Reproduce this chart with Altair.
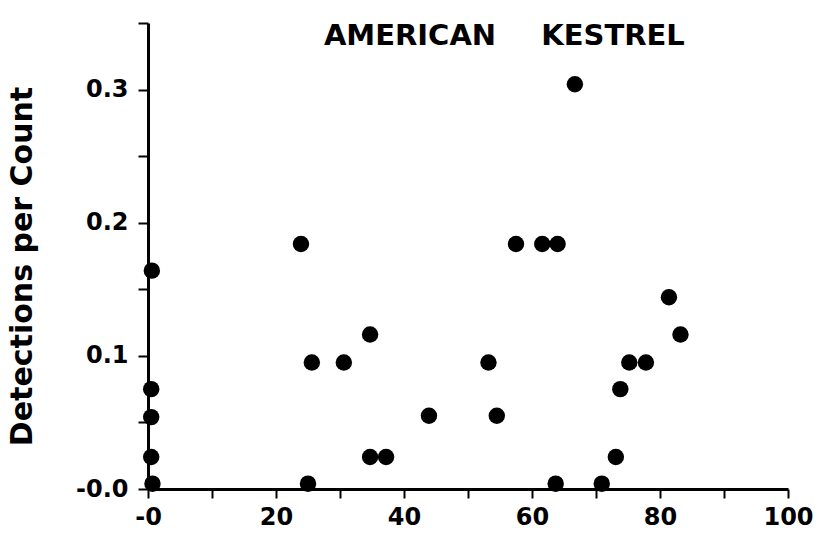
import altair as alt
import pandas as pd

# Data (x = percent, y = detections per count)
xs = [0.6, 0.5, 0.5, 0.5, 0.7, 23.9, 25.0, 25.6, 30.6, 34.7, 34.7, 37.2, 43.9,
      53.2, 54.5, 57.5, 61.6, 64.0, 63.7, 66.7, 70.9, 73.1, 73.8, 75.2, 77.8,
      81.4, 83.2]
ys = [0.164, 0.075, 0.054, 0.024, 0.004, 0.184, 0.004, 0.095, 0.095, 0.116,
      0.024, 0.024, 0.055, 0.095, 0.055, 0.184, 0.184, 0.184, 0.004, 0.304,
      0.004, 0.024, 0.075, 0.095, 0.095, 0.144, 0.116]

df = pd.DataFrame({"x": xs, "y": ys})

FONT = "DejaVu Sans"

x_ticks = [0, 10, 20, 30, 40, 50, 60, 70, 80, 90, 100]
y_ticks = [0, 0.05, 0.1, 0.15, 0.2, 0.25, 0.3, 0.35]

points = alt.Chart(df).mark_circle(size=270, color="black", opacity=1).encode(
    x=alt.X("x:Q", scale=alt.Scale(domain=[0, 100], nice=False, zero=False),
            axis=alt.Axis(values=x_ticks, title=None, grid=False,
                          labelExpr="datum.value == 0 ? '-0' : (datum.value % 20 == 0 ? datum.label : '')",
                          labelFont=FONT, labelFontSize=24, labelFontWeight="bold",
                          labelColor="black", labelPadding=7, labelFlush=False,
                          domainColor="black", domainWidth=3, tickColor="black",
                          tickWidth=2, tickSize=9)),
    y=alt.Y("y:Q", scale=alt.Scale(domain=[0, 0.35], nice=False),
            axis=alt.Axis(values=y_ticks, title="Detections per Count", grid=False,
                          labelExpr="datum.value == 0 ? '-0.0' : (round(datum.value*100) % 10 == 0 ? format(datum.value, '.1f') : '')",
                          labelFont=FONT, labelFontSize=24, labelFontWeight="bold",
                          labelColor="black", labelPadding=10, labelFlush=False,
                          domainColor="black", domainWidth=3, tickColor="black",
                          tickWidth=2, tickSize=10,
                          titleFont=FONT, titleFontSize=30, titleFontWeight="bold",
                          titleColor="black", titleAngle=-90, titleAlign="center",
                          titleBaseline="middle", titleX=-126, titleY=243)),
)

t1 = alt.Chart(pd.DataFrame({"t": ["AMERICAN"]})).mark_text(
    font=FONT, fontSize=29, fontWeight="bold", color="black",
    align="center", baseline="middle").encode(
    text="t:N", x=alt.value(262), y=alt.value(13))
t2 = alt.Chart(pd.DataFrame({"t": ["KESTREL"]})).mark_text(
    font=FONT, fontSize=29, fontWeight="bold", color="black",
    align="center", baseline="middle").encode(
    text="t:N", x=alt.value(465), y=alt.value(13))

chart = alt.layer(points, t1, t2).properties(
    width=640, height=466,
    autosize=alt.AutoSizeParams(type="none"),
    padding={"left": 148, "top": 23, "right": 39, "bottom": 58},
    background="white",
).configure_view(stroke=None)

chart.save("out.html", embed_options={"renderer": "svg", "actions": False})
